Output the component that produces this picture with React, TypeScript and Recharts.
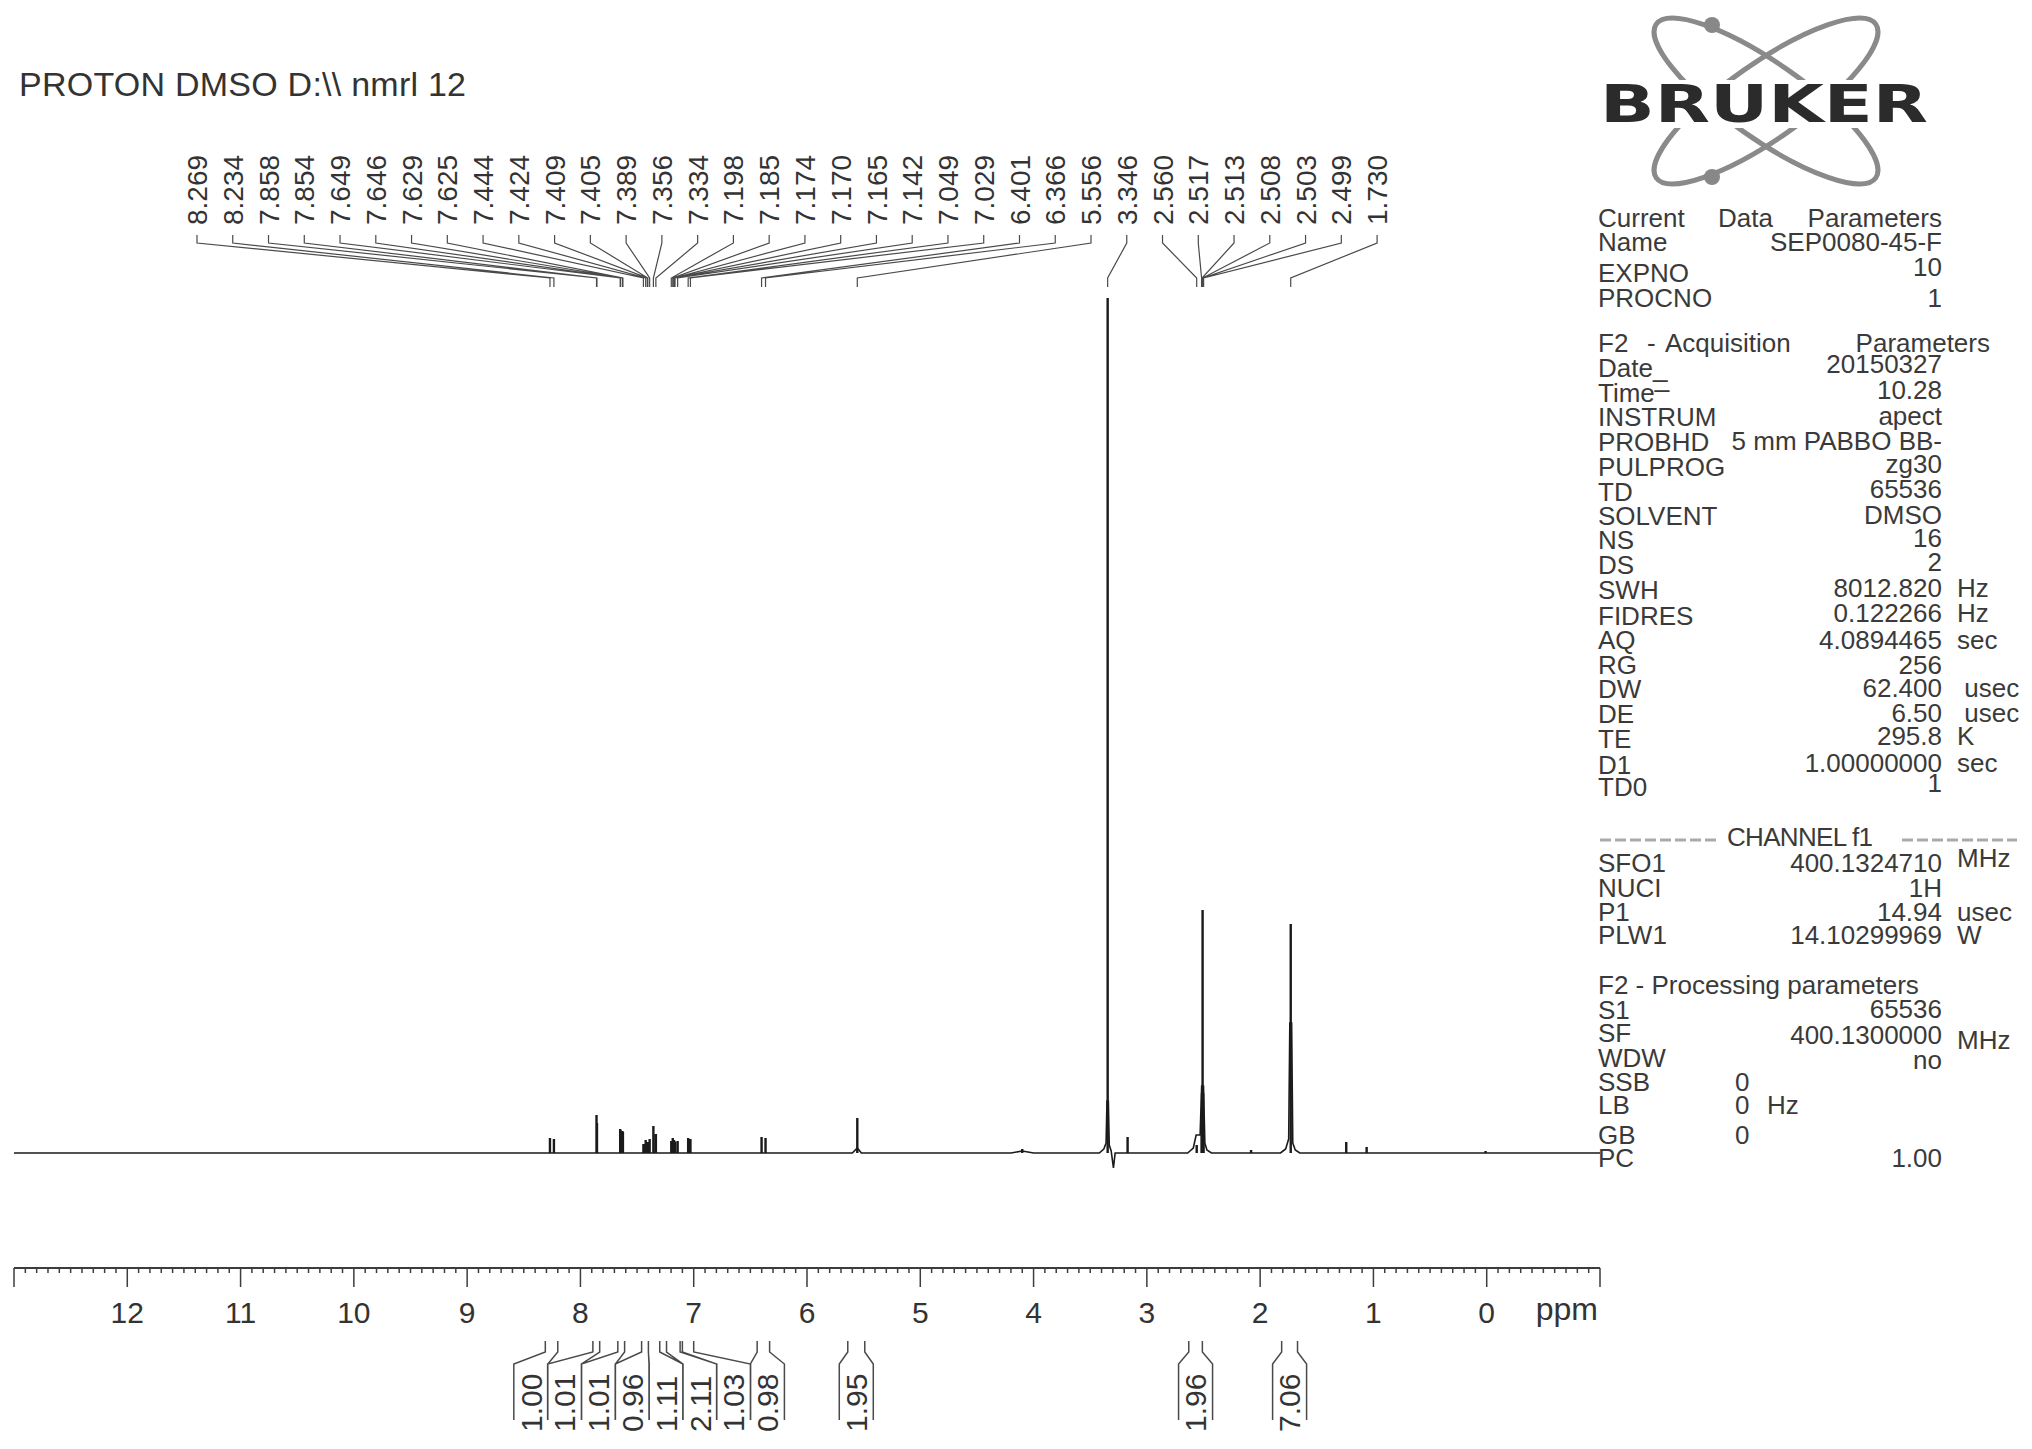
import { ComposedChart, Line, Scatter, XAxis, YAxis } from 'recharts';

// peak picks printed above the spectrum (ppm), left to right
const peakLabels = [
  '8.269', '8.234', '7.858', '7.854', '7.649', '7.646', '7.629', '7.625', '7.444', '7.424',
  '7.409', '7.405', '7.389', '7.356', '7.334', '7.198', '7.185', '7.174', '7.170', '7.165',
  '7.142', '7.049', '7.029', '6.401', '6.366', '5.556', '3.346', '2.560', '2.517', '2.513',
  '2.508', '2.503', '2.499', '1.730',
];

// sharp lines of the spectrum: position (ppm) and height (intensity units)
const linePpm = [
  8.269, 8.234, 7.858, 7.854, 7.649, 7.646, 7.629, 7.625, 7.444, 7.424, 7.409, 7.405, 7.389,
  7.356, 7.334, 7.198, 7.185, 7.174, 7.17, 7.165, 7.142, 7.049, 7.029, 6.401, 6.366, 5.556,
  4.1, 3.346, 3.17, 2.56, 2.517, 2.513, 2.508, 2.503, 2.499, 2.08, 1.73, 1.24, 1.06, 0.01,
];
const lineHeight = [
  15, 14, 38, 30, 24, 23, 22, 21, 9, 13, 11, 11, 14,
  27, 19, 12, 15, 13, 12, 11, 12, 15, 14, 16, 15, 35,
  4, 855, 16, 8, 26, 60, 243, 60, 24, 3, 229, 11, 6, 2,
];

// baseline and broad features under the solvent / water signals
const basePpm = [
  13, 5.6, 5.556, 5.52, 4.2, 4.1, 4.0, 3.42, 3.38, 3.36, 3.352, 3.34, 3.332, 3.315, 3.295,
  3.28, 3.25, 2.64, 2.59, 2.565, 2.53, 2.516, 2.5, 2.488, 2.47, 2.43, 1.82, 1.775, 1.748,
  1.738, 1.722, 1.712, 1.69, 1.65, -1,
];
const baseLevel = [
  0, 0, 5, 0, 0, 2, 0, 0, 4, 10, 52, 52, 8, 2, -15,
  0, 0, 0, 5, 18, 18, 67, 67, 10, 3, 0, 0, 4, 14,
  130, 130, 10, 3, 0, 0,
];

// integrals: region (ppm) and printed value
const integralFrom = [8.31, 7.89, 7.67, 7.46, 7.4, 7.24, 7.1, 6.44, 5.64, 2.63, 1.81];
const integralTo = [8.2, 7.83, 7.61, 7.4, 7.3, 7.12, 7.0, 6.33, 5.49, 2.51, 1.67];
const integralValue = ['1.00', '1.01', '1.01', '0.96', '1.11', '2.11', '1.03', '0.98', '1.95', '1.96', '7.06'];

// axis
const axisLabelValues = [12, 11, 10, 9, 8, 7, 6, 5, 4, 3, 2, 1, 0];
const PPM_MAX = 13;
const PPM_MIN = -1;

// layout
const W = 2032;
const H = 1449;
const PLOT_LEFT = 14;
const PLOT_RIGHT = 1600;
const PLOT_TOP = 100;
const BASE_Y = 1153;
const AXIS_Y = 1268;
const AXIS_H = 70;
const INT_TOP = 1330;
const PX_PER_PPM = (PLOT_RIGHT - PLOT_LEFT) / (PPM_MAX - PPM_MIN);
const FONT = '"Liberation Sans", Arial, Helvetica, sans-serif';
const INK = '#333';

const pxToPpm = (px: number) => PPM_MAX - (px - PLOT_LEFT) / PX_PER_PPM;
const toV = (py: number) => BASE_Y - py;

const axisTicks: number[] = [];
for (let k = PPM_MIN * 10; k <= PPM_MAX * 10; k++) axisTicks.push(k / 10);

// spread labels of neighbouring integrals so they don't overlap
function spreadLabels(centers: number[], gap: number) {
  const groups = centers.map((c) => ({ members: [c], mid: c }));
  let changed = true;
  while (changed) {
    changed = false;
    for (let k = 0; k + 1 < groups.length; k++) {
      const a = groups[k];
      const b = groups[k + 1];
      const aLow = a.mid - ((a.members.length - 1) * gap) / 2;
      const bHigh = b.mid + ((b.members.length - 1) * gap) / 2;
      if (aLow - bHigh < gap) {
        const members = [...a.members, ...b.members];
        const mid = members.reduce((s, m) => s + m, 0) / members.length;
        groups.splice(k, 2, { members, mid });
        changed = true;
        break;
      }
    }
  }
  return groups.flatMap((g) => g.members.map((_, j) => g.mid + ((g.members.length - 1) / 2 - j) * gap));
}

const baselineData = basePpm.map((p, i) => ({ ppm: p, v: baseLevel[i] }));
const spikeData = linePpm.flatMap((p, i) => [
  { ppm: p, v: 0 },
  { ppm: p, v: lineHeight[i] },
  { ppm: p, v: null },
]);

const slotStart = 197;
const slotStep = 35.76;
const labelData = peakLabels.map((t, i) => ({ ppm: pxToPpm(slotStart + i * slotStep), v: toV(225), text: t }));
const connectorData = peakLabels.flatMap((t, i) => {
  const slot = labelData[i].ppm;
  const p = parseFloat(t);
  return [
    { ppm: slot, v: toV(235) },
    { ppm: slot, v: toV(243) },
    { ppm: p, v: toV(278) },
    { ppm: p, v: toV(287) },
    { ppm: p, v: null },
  ];
});

const integralSlots = spreadLabels(
  integralFrom.map((f, i) => (f + integralTo[i]) / 2),
  33.8 / PX_PER_PPM,
);
const wall = 17 / PX_PER_PPM;
const bracketData = integralFrom.flatMap((from, i) => {
  const s = integralSlots[i];
  const to = integralTo[i];
  return [
    { ppm: from, v: 1341 },
    { ppm: from, v: 1352 },
    { ppm: s + wall, v: 1364 },
    { ppm: s + wall, v: 1420 },
    { ppm: s, v: null },
    { ppm: to, v: 1341 },
    { ppm: to, v: 1352 },
    { ppm: s - wall, v: 1364 },
    { ppm: s - wall, v: 1420 },
    { ppm: s, v: null },
  ];
});
const integralLabelData = integralValue.map((t, i) => ({ ppm: integralSlots[i], v: 1432, text: t }));

const AxisTick = (props: any) => {
  const { x, y, payload } = props;
  const v = Math.round(payload.value * 10) / 10;
  const major = Math.abs(v - Math.round(v)) < 1e-6;
  const showLabel = major && axisLabelValues.includes(Math.round(v));
  return (
    <g>
      <line x1={x} x2={x} y1={y} y2={y + (major ? 19 : 5)} stroke="#3d3d3d" strokeWidth={1.5} />
      {showLabel && (
        <text x={x} y={y + 55} textAnchor="middle" fontSize={30} fill={INK} fontFamily={FONT}>
          {String(Math.round(v))}
        </text>
      )}
    </g>
  );
};

const rotatedLabel = (size: number) => (p: any) => (
  <text
    x={p.cx}
    y={p.cy}
    dy="0.36em"
    transform={`rotate(-90 ${p.cx} ${p.cy})`}
    fontSize={size}
    fill={INK}
    fontFamily={FONT}
  >
    {p.payload.text}
  </text>
);

type Row = { l: string; ly: number; v?: string; vy?: number; u?: string; uy?: number };

const panelRows: Row[] = [
  { l: 'Name', ly: 251, v: 'SEP0080-45-F', vy: 251 },
  { l: 'EXPNO', ly: 282, v: '10', vy: 276 },
  { l: 'PROCNO', ly: 307, v: '1', vy: 307 },
  { l: 'Date_', ly: 377, v: '20150327', vy: 373 },
  { l: 'INSTRUM', ly: 426, v: 'apect', vy: 425 },
  { l: 'PROBHD', ly: 451, v: '5 mm PABBO BB-', vy: 450 },
  { l: 'PULPROG', ly: 476, v: 'zg30', vy: 473 },
  { l: 'TD', ly: 501, v: '65536', vy: 498 },
  { l: 'SOLVENT', ly: 525, v: 'DMSO', vy: 524 },
  { l: 'NS', ly: 549, v: '16', vy: 547 },
  { l: 'DS', ly: 574, v: '2', vy: 571 },
  { l: 'SWH', ly: 599, v: '8012.820', vy: 597, u: 'Hz', uy: 597 },
  { l: 'FIDRES', ly: 625, v: '0.122266', vy: 622, u: 'Hz', uy: 622 },
  { l: 'AQ', ly: 649, v: '4.0894465', vy: 649, u: 'sec', uy: 649 },
  { l: 'RG', ly: 674, v: '256', vy: 674 },
  { l: 'DW', ly: 698, v: '62.400', vy: 697, u: ' usec', uy: 697 },
  { l: 'DE', ly: 723, v: '6.50', vy: 722, u: ' usec', uy: 722 },
  { l: 'TE', ly: 748, v: '295.8', vy: 745, u: 'K', uy: 745 },
  { l: 'D1', ly: 774, v: '1.00000000', vy: 772, u: 'sec', uy: 772 },
  { l: 'TD0', ly: 796, v: '1', vy: 792 },
  { l: 'SFO1', ly: 872, v: '400.1324710', vy: 872, u: 'MHz', uy: 867 },
  { l: 'NUCI', ly: 897, v: '1H', vy: 897 },
  { l: 'P1', ly: 921, v: '14.94', vy: 921, u: 'usec', uy: 921 },
  { l: 'PLW1', ly: 944, v: '14.10299969', vy: 944, u: 'W', uy: 944 },
  { l: 'S1', ly: 1019, v: '65536', vy: 1018 },
  { l: 'SF', ly: 1042, v: '400.1300000', vy: 1044, u: 'MHz', uy: 1049 },
  { l: 'WDW', ly: 1067, v: 'no', vy: 1069 },
  { l: 'PC', ly: 1167, v: '1.00', vy: 1167 },
];

const PX = 1598;
const VX = 1942;
const UX = 1957;

const Panel = () => (
  <g fontFamily={FONT} fontSize={26} fill="#3a3a3a">
    {/* logo */}
    <g fill="none" stroke="#8a8a8a" strokeWidth={5}>
      <ellipse cx={1766} cy={101} rx={134} ry={38} transform="rotate(35 1766 101)" />
      <ellipse cx={1766} cy={101} rx={134} ry={38} transform="rotate(-35 1766 101)" />
    </g>
    <circle cx={1712} cy={25} r={8} fill="#888" />
    <circle cx={1712} cy={177} r={8} fill="#888" />
    <rect x={1596} y={80} width={338} height={48} fill="#fff" />
    <text
      x={1600}
      y={122}
      fontFamily='"DejaVu Sans", sans-serif'
      fontWeight="bold"
      fontSize={52}
      textLength={328}
      lengthAdjust="spacingAndGlyphs"
      fill="#2b2b2b"
    >
      BRUKER
    </text>

    <text x={PX} y={227}>Current</text>
    <text x={1718} y={227}>Data</text>
    <text x={VX} y={227} textAnchor="end">Parameters</text>

    <text x={PX} y={352}>F2</text>
    <text x={1647} y={352}>-</text>
    <text x={1665} y={352}>Acquisition</text>
    <text x={1990} y={352} textAnchor="end">Parameters</text>
    <text x={PX} y={402}>
      Time<tspan dy={-15}>_</tspan>
    </text>
    <text x={VX} y={399} textAnchor="end">10.28</text>

    <line x1={1600} x2={1720} y1={840} y2={840} stroke="#aaa" strokeWidth={3} strokeDasharray="11 4" />
    <text x={1727} y={846} textLength={146} lengthAdjust="spacing">CHANNEL f1</text>
    <line x1={1902} x2={2017} y1={840} y2={840} stroke="#aaa" strokeWidth={3} strokeDasharray="11 4" />

    <text x={PX} y={994}>F2 - Processing parameters</text>
    <text x={PX} y={1091}>SSB</text>
    <text x={1735} y={1091}>0</text>
    <text x={PX} y={1114}>LB</text>
    <text x={1735} y={1114}>0</text>
    <text x={1767} y={1114}>Hz</text>
    <text x={PX} y={1144}>GB</text>
    <text x={1735} y={1144}>0</text>

    {panelRows.map((r) => (
      <g key={r.l}>
        <text x={PX} y={r.ly}>{r.l}</text>
        {r.v && (
          <text x={VX} y={r.vy} textAnchor="end">
            {r.v}
          </text>
        )}
        {r.u && (
          <text x={UX} y={r.uy} xmlSpace="preserve">
            {r.u}
          </text>
        )}
      </g>
    ))}
  </g>
);

export default function App() {
  const margin = { top: PLOT_TOP, right: W - PLOT_RIGHT, bottom: 0, left: PLOT_LEFT };
  return (
    <div style={{ position: 'absolute', left: 0, top: 0, width: W, height: H, background: '#fff', overflow: 'hidden' }}>
      <div style={{ position: 'absolute', left: 0, top: 0 }}>
        <ComposedChart width={W} height={AXIS_Y + AXIS_H} margin={margin}>
          <XAxis
            type="number"
            dataKey="ppm"
            domain={[PPM_MIN, PPM_MAX]}
            reversed
            allowDataOverflow
            ticks={axisTicks}
            interval={0}
            tick={<AxisTick />}
            tickLine={false}
            tickSize={0}
            tickMargin={0}
            height={AXIS_H}
            axisLine={{ stroke: '#3d3d3d', strokeWidth: 2 }}
          />
          <YAxis type="number" domain={[toV(AXIS_Y), toV(PLOT_TOP)]} hide allowDataOverflow />
          <Line data={baselineData} dataKey="v" type="linear" stroke="#1a1a1a" strokeWidth={1.6} dot={false} activeDot={false} isAnimationActive={false} />
          <Line data={spikeData} dataKey="v" type="linear" stroke="#1a1a1a" strokeWidth={2.4} dot={false} activeDot={false} isAnimationActive={false} />
          <Line data={connectorData} dataKey="v" type="linear" stroke="#4a4a4a" strokeWidth={1.2} dot={false} activeDot={false} isAnimationActive={false} />
          <Scatter data={labelData} dataKey="v" shape={rotatedLabel(28)} isAnimationActive={false} />
        </ComposedChart>
      </div>
      <div style={{ position: 'absolute', left: 0, top: INT_TOP }}>
        <ComposedChart width={W} height={H - INT_TOP} margin={{ top: 0, right: W - PLOT_RIGHT, bottom: 0, left: PLOT_LEFT }}>
          <XAxis type="number" dataKey="ppm" domain={[PPM_MIN, PPM_MAX]} reversed hide allowDataOverflow />
          <YAxis type="number" domain={[INT_TOP, H]} reversed hide allowDataOverflow />
          <Line data={bracketData} dataKey="v" type="linear" stroke="#4a4a4a" strokeWidth={1.5} dot={false} activeDot={false} isAnimationActive={false} />
          <Scatter data={integralLabelData} dataKey="v" shape={rotatedLabel(30)} isAnimationActive={false} />
        </ComposedChart>
      </div>
      <svg width={W} height={H} style={{ position: 'absolute', left: 0, top: 0, pointerEvents: 'none' }}>
        <text x={19} y={96} fontFamily={FONT} fontSize={34} fill={INK} textLength={447} lengthAdjust="spacing">
          {'PROTON DMSO D:\\\\ nmrl 12'}
        </text>
        <text x={1598} y={1320} textAnchor="end" fontFamily={FONT} fontSize={32} fill={INK}>
          ppm
        </text>
        <Panel />
      </svg>
    </div>
  );
}
